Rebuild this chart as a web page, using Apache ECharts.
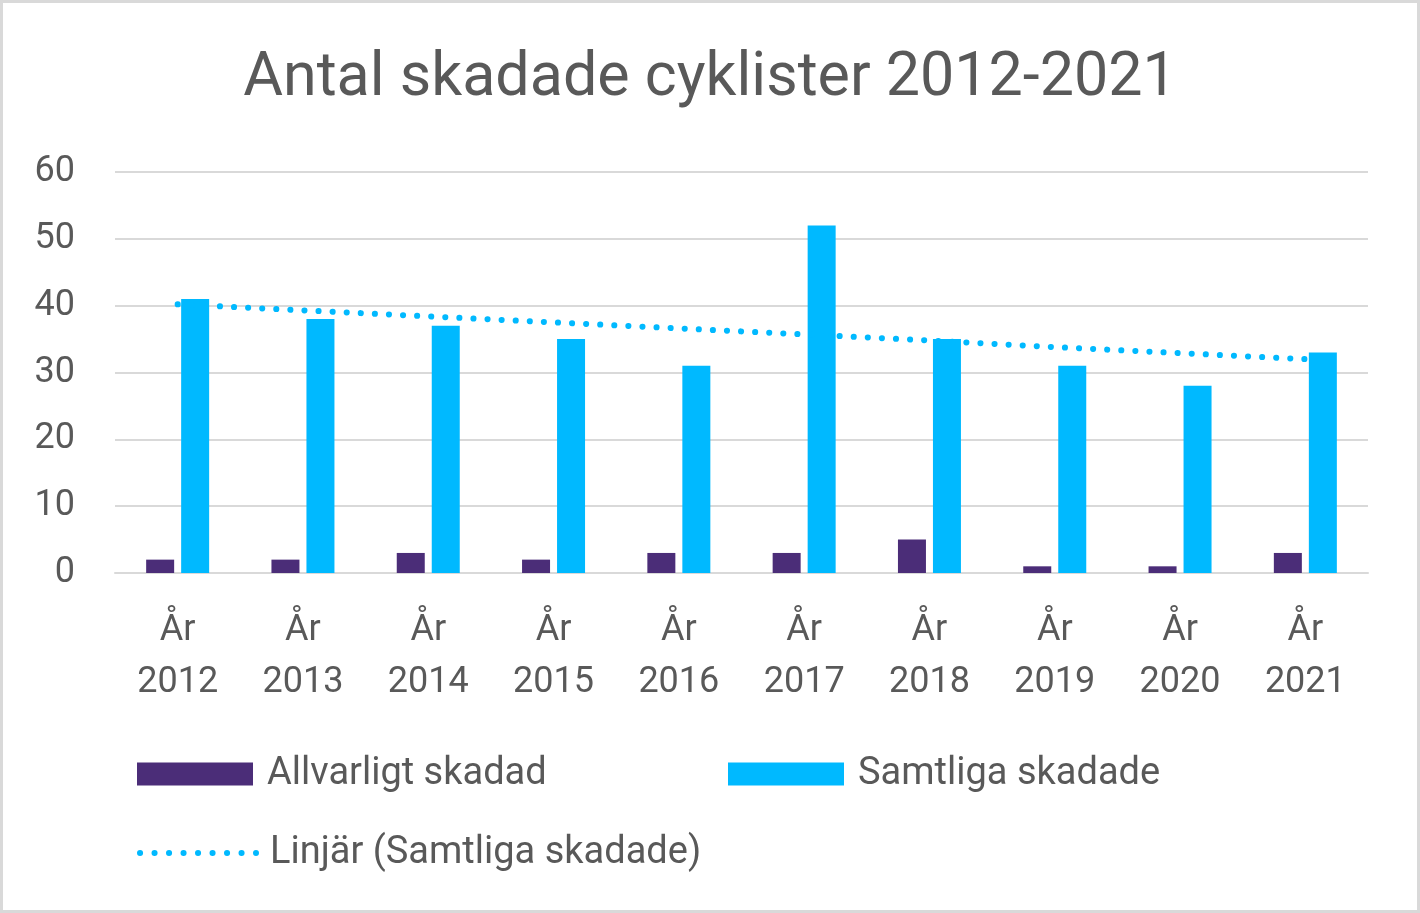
<!DOCTYPE html>
<html>
<head>
<meta charset="utf-8">
<script src="https://cdn.jsdelivr.net/npm/echarts@6/dist/echarts.min.js"></script>
<style>
html,body{margin:0;padding:0;background:#fff;}
#wrap{width:1420px;height:913px;box-sizing:border-box;border:3px solid #d9d9d9;}
#chart{width:1414px;height:907px;}
</style>
</head>
<body>
<div id="wrap"><div id="chart"></div></div>
<script>
const titleText = 'Antal skadade cyklister 2012-2021';
const categories = ['År\n2012','År\n2013','År\n2014','År\n2015','År\n2016','År\n2017','År\n2018','År\n2019','År\n2020','År\n2021'];
const seriesNames = ['Allvarligt skadad','Samtliga skadade','Linjär (Samtliga skadade)'];
const allvarligt = [2,2,3,2,3,3,5,1,1,3];
const samtliga = [41,38,37,35,31,52,35,31,28,33];
const trend = [40.2,39.3,38.4,37.5,36.6,35.7,34.8,33.8,32.9,32.0];
const yTicks = {min:0, max:60, interval:10};

const txt = '#595959';
const font = 'Roboto';
const legText = {fontFamily:font,fontSize:38,color:txt,padding:[0,0,0,9]};
const chart = echarts.init(document.getElementById('chart'));
chart.setOption({
  animation:false,
  title:{text:titleText,left:'center',top:41,textStyle:{fontFamily:font,fontWeight:'normal',fontSize:61,color:txt}},
  grid:{left:112,right:49,top:169,bottom:337,containLabel:false},
  legend:[
    {data:[seriesNames[0]],left:134,top:752,padding:0,itemWidth:116,itemHeight:23,itemGap:0,icon:'rect',
     textStyle:legText},
    {data:[seriesNames[1]],left:725,top:752,padding:0,itemWidth:116,itemHeight:23,itemGap:0,icon:'rect',
     textStyle:legText},
    {data:[seriesNames[2]],left:134,top:831,padding:0,itemWidth:116,itemHeight:23,itemGap:0,
     itemStyle:{opacity:0},
     lineStyle:{color:'#00b9ff',width:6,type:[0.1,14.4],cap:'round'},
     textStyle:legText}
  ],
  xAxis:{type:'category',data:categories,
    axisLine:{lineStyle:{color:'#d9d9d9',width:2}},axisTick:{show:false},
    axisLabel:{fontFamily:font,fontSize:36,color:txt,lineHeight:52,margin:32,interval:0}},
  yAxis:{type:'value',min:yTicks.min,max:yTicks.max,interval:yTicks.interval,
    axisLine:{show:false},axisTick:{show:false},
    splitLine:{lineStyle:{color:'#d9d9d9',width:2}},
    axisLabel:{fontFamily:font,fontSize:36,color:txt,margin:40}},
  series:[
    {name:seriesNames[0],type:'bar',data:allvarligt,barWidth:28,barGap:'25%',itemStyle:{color:'#4b2d78'}},
    {name:seriesNames[1],type:'bar',data:samtliga,barWidth:28,itemStyle:{color:'#00b9ff'}},
    {name:seriesNames[2],type:'line',data:trend,symbol:'none',z:5,
     lineStyle:{color:'#00b9ff',width:6,type:[0.1,14],cap:'round'},itemStyle:{color:'#00b9ff'}}
  ]
});
</script>
</body>
</html>
